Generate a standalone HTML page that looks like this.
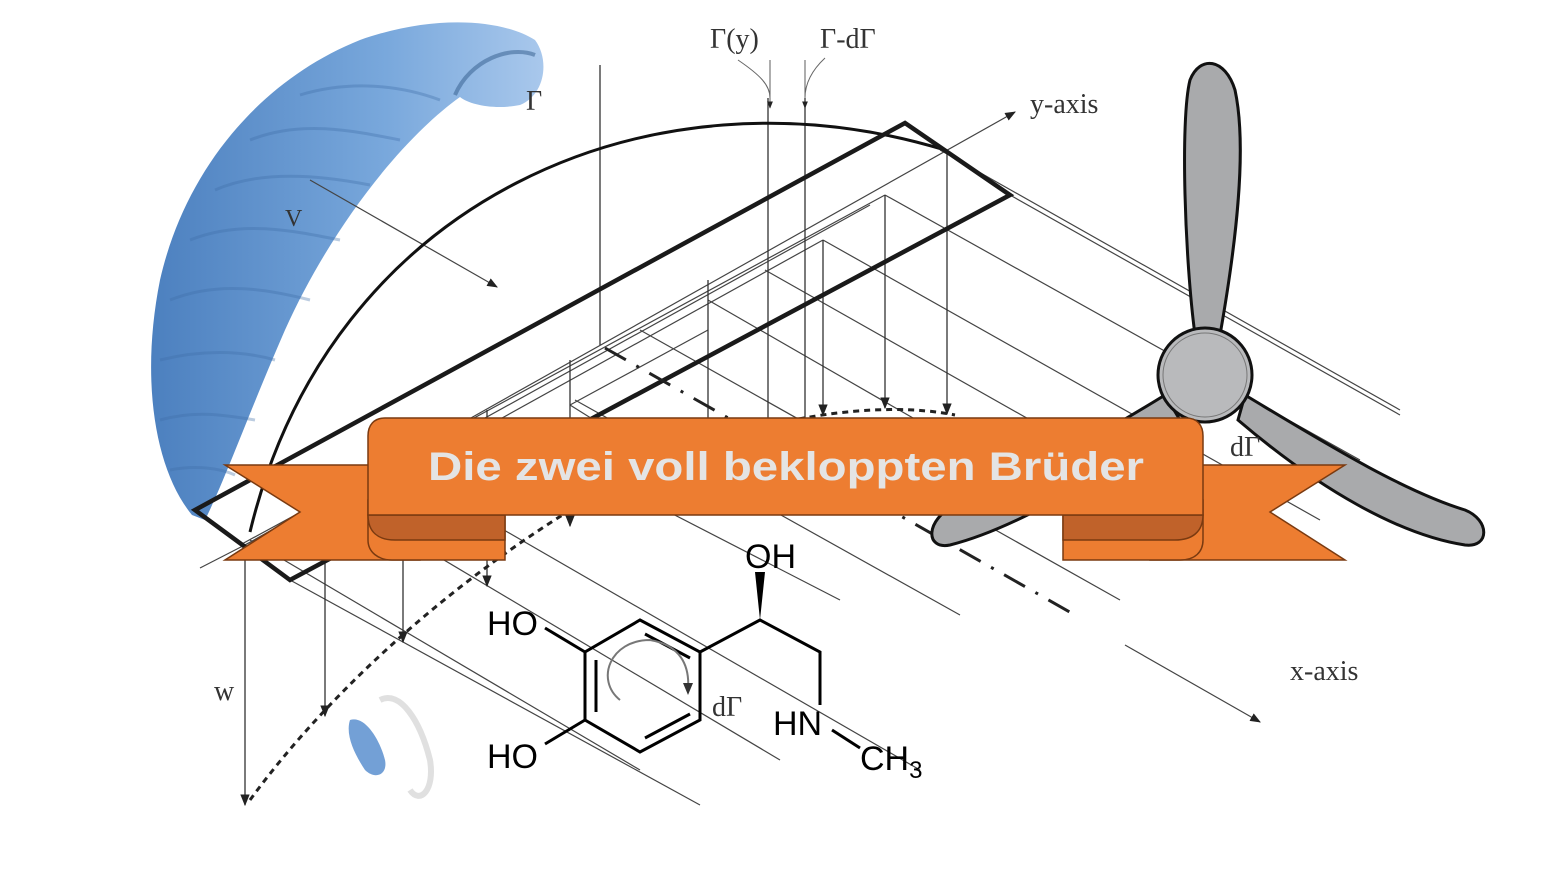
<!DOCTYPE html>
<html><head><meta charset="utf-8"><style>
html,body{margin:0;padding:0;background:#fff;}
svg{display:block;}
</style></head><body>
<svg width="1550" height="870" viewBox="0 0 1550 870" xmlns="http://www.w3.org/2000/svg">
<defs>
<marker id="a" viewBox="0 0 10 10" refX="9" refY="5" markerWidth="9" markerHeight="9" orient="auto"><path d="M0,1 L10,5 L0,9 z" fill="#222"/></marker>
<linearGradient id="bl" x1="0" y1="0" x2="1" y2="0"><stop offset="0" stop-color="#4c80bf"/><stop offset="0.6" stop-color="#79a8dc"/><stop offset="1" stop-color="#a9c8ec"/></linearGradient>
</defs>
<rect width="1550" height="870" fill="#fff"/>

<!-- wing -->
<path d="M192,515 C155,470 140,380 160,280 C185,170 260,80 360,40 C430,15 500,18 535,40 C550,60 545,95 520,105 C495,110 470,105 460,97 C400,140 330,230 285,330 C250,410 225,480 205,520 Z" fill="url(#bl)"/>
<g stroke="#3f6ea8" stroke-width="3" fill="none" opacity="0.35">
<path d="M170,300 C220,280 270,290 310,300"/><path d="M190,240 C240,220 290,230 340,240"/><path d="M215,190 C260,170 320,175 370,185"/><path d="M250,140 C300,120 350,130 400,140"/><path d="M300,95 C350,80 400,85 440,100"/><path d="M160,360 C200,350 240,350 275,360"/><path d="M160,420 C195,410 225,415 255,420"/><path d="M170,470 C195,465 220,468 235,475"/>
</g>
<path d="M455,95 C470,60 510,45 535,55" stroke="#2f5a8a" stroke-width="4" fill="none" opacity="0.5"/>
<!-- pilot -->
<path d="M350,720 C365,715 380,740 385,760 C388,775 375,780 365,770 C355,755 345,735 350,720 Z" fill="#5b8fcf" opacity="0.85"/>
<path d="M380,700 C400,690 420,720 430,760 C435,790 420,805 410,790" stroke="#ccc" stroke-width="6" fill="none" opacity="0.6"/>

<!-- thin diagonal lines -->
<g stroke="#444" stroke-width="1.2" fill="none">
<line x1="940" y1="150" x2="1400" y2="410"/>
<line x1="1010" y1="195" x2="1400" y2="415"/>
<line x1="885" y1="195" x2="1360" y2="460"/>
<line x1="823" y1="240" x2="1320" y2="520"/>
<line x1="765" y1="270" x2="1260" y2="550"/>
<line x1="708" y1="300" x2="1125" y2="540"/>
<line x1="640" y1="330" x2="1120" y2="600"/>
<line x1="575" y1="400" x2="960" y2="615"/>
<line x1="490" y1="420" x2="840" y2="600"/>
<line x1="400" y1="470" x2="920" y2="770"/>
<line x1="360" y1="510" x2="780" y2="760"/>
<line x1="290" y1="580" x2="700" y2="805"/>
<line x1="250" y1="540" x2="640" y2="770"/>
<line x1="200" y1="568" x2="420" y2="455"/>
<line x1="1125" y1="645" x2="1260" y2="722" marker-end="url(#a)"/>
<line x1="245" y1="545" x2="1015" y2="112" marker-end="url(#a)"/>
<line x1="310" y1="180" x2="497" y2="287" marker-end="url(#a)"/>
<line x1="885" y1="195" x2="240" y2="545"/>
<line x1="870" y1="205" x2="250" y2="548"/>
<line x1="823" y1="240" x2="255" y2="555"/>
<line x1="708" y1="330" x2="570" y2="405"/>
<line x1="570" y1="405" x2="610" y2="430"/>
</g>
<g stroke="#333" stroke-width="1.3" fill="none">
<line x1="600" y1="65" x2="600" y2="345"/>
<line x1="768" y1="98" x2="768" y2="430"/>
<line x1="805" y1="98" x2="805" y2="430"/>
<line x1="823" y1="240" x2="823" y2="415" marker-end="url(#a)"/>
<line x1="885" y1="195" x2="885" y2="408" marker-end="url(#a)"/>
<line x1="947" y1="150" x2="947" y2="414" marker-end="url(#a)"/>
<line x1="708" y1="280" x2="708" y2="425"/>
<line x1="570" y1="360" x2="570" y2="526" marker-end="url(#a)"/>
<line x1="487" y1="410" x2="487" y2="586" marker-end="url(#a)"/>
<line x1="403" y1="460" x2="403" y2="642" marker-end="url(#a)"/>
<line x1="325" y1="495" x2="325" y2="716" marker-end="url(#a)"/>
<line x1="245" y1="545" x2="245" y2="805" marker-end="url(#a)"/>
<line x1="770" y1="60" x2="770" y2="108" marker-end="url(#a)" stroke-width="0.8"/>
<line x1="805" y1="60" x2="805" y2="108" marker-end="url(#a)" stroke-width="0.8"/>
</g>
<path d="M738,60 C760,75 770,85 770,98" stroke="#666" fill="none"/>
<path d="M825,58 C810,72 805,85 805,98" stroke="#666" fill="none"/>

<path d="M250,532 C330,200 650,60 945,150" stroke="#111" stroke-width="3" fill="none"/>
<path d="M905,123 L1010,195 L290,580 L195,510 Z" stroke="#1a1a1a" stroke-width="4.5" fill="none"/>
<path d="M250,800 C330,690 470,560 640,470 C760,415 880,400 955,415" stroke="#222" stroke-width="3" stroke-dasharray="6,5" fill="none"/>
<path d="M605,348 L1075,615" stroke="#222" stroke-width="3" stroke-dasharray="24,12,3,12" fill="none"/>

<!-- propeller -->
<g stroke="#111" stroke-width="3" fill="#a9aaac">
<path d="M1195,335 C1185,260 1180,120 1190,80 C1200,55 1225,58 1235,90 C1248,150 1235,250 1220,335 Z"/>
<path d="M1245,395 C1320,440 1400,490 1465,510 C1490,520 1490,548 1465,545 C1400,535 1320,490 1238,420 Z"/>
<path d="M1165,395 C1100,435 1020,480 955,505 C925,520 925,550 950,545 C1010,530 1100,480 1180,420 Z"/>
<circle cx="1205" cy="375" r="47" fill="#b9babc"/>
</g>
<circle cx="1205" cy="375" r="42" fill="none" stroke="#777" stroke-width="1"/>

<!-- banner -->
<g stroke="#7a3a10" stroke-width="1.5">
<path d="M225,465 L420,465 L420,560 L225,560 L300,512 Z" fill="#ED7D31"/>
<path d="M1345,465 L1150,465 L1150,560 L1345,560 L1270,512 Z" fill="#ED7D31"/>
<path d="M368,500 L505,500 L505,560 L392,560 C378,560 368,552 368,540 Z" fill="#ED7D31"/>
<path d="M1203,500 L1063,500 L1063,560 L1180,560 C1195,560 1203,552 1203,540 Z" fill="#ED7D31"/>
<path d="M368,515 C368,532 378,540 395,540 L505,540 L505,515 Z" fill="#C0622A"/>
<path d="M1203,515 C1203,532 1192,540 1175,540 L1063,540 L1063,515 Z" fill="#C0622A"/>
<path d="M385,418 L1186,418 C1197,418 1203,425 1203,436 L1203,515 L368,515 L368,436 C368,425 374,418 385,418 Z" fill="#ED7D31"/>
</g>
<text x="786" y="480" text-anchor="middle" font-family="Liberation Sans, sans-serif" font-weight="bold" font-size="40" fill="#e4e4e4" textLength="716" lengthAdjust="spacingAndGlyphs">Die zwei voll bekloppten Brüder</text>

<!-- molecule -->
<g stroke="#000" stroke-width="3" fill="none">
<path d="M640,620 L700,652 L700,720 L640,752 L585,720 L585,652 Z"/>
<line x1="596" y1="660" x2="596" y2="712"/>
<line x1="645" y1="634" x2="690" y2="658"/>
<line x1="645" y1="738" x2="690" y2="714"/>
<line x1="585" y1="652" x2="545" y2="628"/>
<line x1="585" y1="720" x2="545" y2="744"/>
<path d="M700,652 L760,620 L820,652 L820,705"/>
<line x1="832" y1="730" x2="860" y2="748"/>
</g>
<path d="M760,620 L755,572 L765,572 Z" fill="#000"/>
<path d="M620,700 C595,680 610,640 650,640 C680,645 690,665 688,690" stroke="#777" stroke-width="2" fill="none"/>
<path d="M683,683 L693,683 L688,695 Z" fill="#333"/>
<g font-family="Liberation Sans, sans-serif" font-size="34" fill="#000">
<text x="745" y="568">OH</text>
<text x="487" y="635">HO</text>
<text x="487" y="768">HO</text>
<text x="773" y="735">HN</text>
<text x="860" y="770">CH<tspan font-size="24" dy="8">3</tspan></text>
</g>

<g font-family="Liberation Serif, serif" fill="#333" font-size="28">
<text x="710" y="48">Γ(y)</text>
<text x="820" y="48">Γ-dΓ</text>
<text x="526" y="110">Γ</text>
<text x="1030" y="113">y-axis</text>
<text x="1290" y="680">x-axis</text>
<text x="214" y="700">w</text>
<text x="1230" y="456">dΓ</text>
<text x="712" y="716">dΓ</text>
<text x="285" y="226" font-size="24">V</text>
</g>
</svg>
</body></html>
